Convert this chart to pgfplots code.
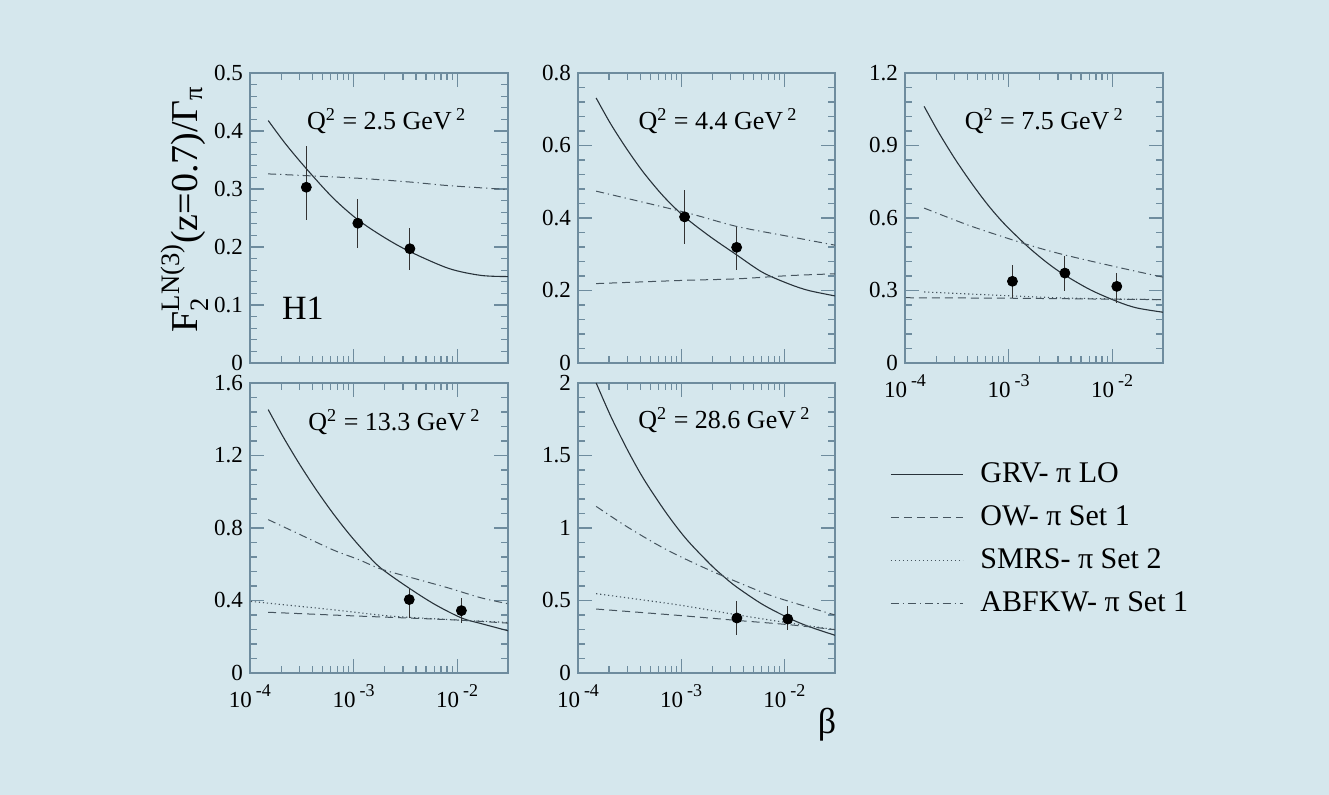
\documentclass[border=0pt]{standalone}
\usepackage{fontspec}
\setmainfont{Liberation Serif}
\usepackage{amsmath}
\usepackage{pgfplots}
\pgfplotsset{compat=1.18}
\definecolor{bg}{RGB}{213,231,237}
\definecolor{axc}{RGB}{110,140,158}
\definecolor{lnc}{RGB}{40,50,58}
\definecolor{dshc}{RGB}{70,85,95}
\newcommand{\dec}[1]{10\hspace{2pt}\raisebox{5.5pt}{\fontsize{9}{9}\selectfont #1}}
\pgfplotsset{every axis/.append style={
  scale only axis, height=145pt,
  xmin=1e-4, xmax=3.1e-2, ymin=0,
  axis line style={axc, line width=0.6pt},
  tick style={axc, line width=0.6pt},
  major tick length=7pt, minor tick length=3.5pt,
  tick align=inside, xtick pos=both, ytick pos=both,
  xticklabel pos=lower, yticklabel pos=left,
  xtick={1e-4,1e-3,1e-2},
  minor y tick num=4,
  ticklabel style={font=\fontsize{11.5}{13}\selectfont, text=black},
  xticklabel style={yshift=-2.5pt},
  yticklabel={\pgfmathprintnumber[assume math mode=true]{\tick}},
}}
\begin{document}
\begin{tikzpicture}
\fill[bg] (0,0) rectangle (664.5pt,397.5pt);

% Panel 1
\begin{semilogxaxis}[at={(125pt,216pt)}, anchor=south west, width=129pt, ymax=0.5, ytick={0,0.1,0.2,0.3,0.4,0.5}, xticklabels={}]
\addplot[lnc, line width=0.55pt, smooth] table {
x y
1.5e-4 0.418
2.2e-4 0.378
3.5e-4 0.335
6.3e-4 0.285
1.1e-3 0.247
2e-3 0.216
3.5e-3 0.192
8.3e-3 0.163
1.7e-2 0.151
3.1e-2 0.149
};
\addplot[dshc, line width=0.5pt, dash pattern=on 4pt off 2pt on 0.6pt off 2pt, smooth] table {
x y
1.5e-4 0.326
1e-3 0.319
3.5e-3 0.312
8e-3 0.306
3.1e-2 0.299
};
\addplot[black!80, only marks, mark=none, forget plot, error bars/.cd, y dir=both, y explicit, error mark=-, error mark options={mark size=1.6pt, line width=0.5pt}] table[x=x,y=y,y error plus=sp,y error minus=sm] {
x y sp sm
3.5e-4 0.303 0.021 0.023
1.1e-3 0.241 0.011 0.012
3.5e-3 0.197 0.012 0.014
};
\addplot[black, only marks, mark=*, mark size=2.5pt, forget plot, error bars/.cd, y dir=both, y explicit, error mark=none, error bar style={black!80, line width=0.5pt}] table[x=x,y=y,y error plus=ep,y error minus=em] {
x y ep em
3.5e-4 0.303 0.071 0.056
1.1e-3 0.241 0.041 0.042
3.5e-3 0.197 0.035 0.036
};
\node[font=\fontsize{13}{15}\selectfont] at (rel axis cs:0.53,0.834) {Q\textsuperscript{2} = 2.5 GeV\,\textsuperscript{2}};
\node[font=\fontsize{17}{20}\selectfont] at (rel axis cs:0.205,0.19) {H1};
\end{semilogxaxis}

% Panel 2
\begin{semilogxaxis}[at={(289pt,216pt)}, anchor=south west, width=128.5pt, ymax=0.8, ytick={0,0.2,0.4,0.6,0.8}, xticklabels={}]
\addplot[lnc, line width=0.55pt, smooth] table {
x y
1.5e-4 0.731
2.08e-4 0.659
3.01e-4 0.588
4.36e-4 0.524
6.78e-4 0.459
1.08e-3 0.403
1.9e-3 0.349
3.42e-3 0.299
6.15e-3 0.250
1.11e-2 0.218
1.72e-2 0.200
3.1e-2 0.185
};
\addplot[dshc, line width=0.5pt, dash pattern=on 4pt off 2pt on 0.6pt off 2pt, smooth] table {
x y
1.5e-4 0.474
1.08e-3 0.416
3.42e-3 0.377
1.11e-2 0.349
3.1e-2 0.325
};
\addplot[dshc, line width=0.5pt, dash pattern=on 4pt off 2.5pt, smooth] table {
x y
1.5e-4 0.219
1.08e-3 0.228
3.42e-3 0.232
1.11e-2 0.241
3.1e-2 0.246
};
\addplot[black!80, only marks, mark=none, forget plot, error bars/.cd, y dir=both, y explicit, error mark=-, error mark options={mark size=1.6pt, line width=0.5pt}] table[x=x,y=y,y error plus=sp,y error minus=sm] {
x y sp sm
1.08e-3 0.403 0.029 0.031
3.45e-3 0.319 0.021 0.025
};
\addplot[black, only marks, mark=*, mark size=2.5pt, forget plot, error bars/.cd, y dir=both, y explicit, error mark=none, error bar style={black!80, line width=0.5pt}] table[x=x,y=y,y error plus=ep,y error minus=em] {
x y ep em
1.08e-3 0.403 0.073 0.074
3.45e-3 0.319 0.056 0.062
};
\node[font=\fontsize{13}{15}\selectfont] at (rel axis cs:0.545,0.834) {Q\textsuperscript{2} = 4.4 GeV\,\textsuperscript{2}};
\end{semilogxaxis}

% Panel 3
\begin{semilogxaxis}[at={(452.5pt,216pt)}, anchor=south west, width=129pt, ymax=1.2, ytick={0,0.3,0.6,0.9,1.2}, xticklabels={\dec{-4},\dec{-3},\dec{-2}}]
\addplot[lnc, line width=0.55pt, smooth] table {
x y
1.53e-4 1.062
2.08e-4 0.959
3.01e-4 0.847
4.36e-4 0.746
6.29e-4 0.655
9.09e-4 0.576
1.52e-3 0.483
2.37e-3 0.414
3.42e-3 0.366
6.15e-3 0.303
1.11e-2 0.255
1.72e-2 0.228
3.1e-2 0.210
};
\addplot[dshc, line width=0.5pt, dash pattern=on 4pt off 2pt on 0.6pt off 2pt, smooth] table {
x y
1.53e-4 0.641
4.36e-4 0.566
1.52e-3 0.490
3.42e-3 0.448
1.11e-2 0.397
3.1e-2 0.355
};
\addplot[dshc, line width=0.5pt, dash pattern=on 4pt off 2.5pt, smooth] table {
x y
1.02e-4 0.270
1e-3 0.268
1e-2 0.264
3.1e-2 0.262
};
\addplot[dshc, line width=0.55pt, dash pattern=on 0.6pt off 1.4pt, smooth] table {
x y
1.53e-4 0.294
9e-4 0.279
3.42e-3 0.269
1.11e-2 0.265
3.1e-2 0.262
};
\addplot[black!80, only marks, mark=none, forget plot, error bars/.cd, y dir=both, y explicit, error mark=-, error mark options={mark size=1.6pt, line width=0.5pt}] table[x=x,y=y,y error plus=sp,y error minus=sm] {
x y sp sm
1.09e-3 0.338 0.045 0.045
3.5e-3 0.372 0.045 0.045
1.11e-2 0.317 0.035 0.035
};
\addplot[black, only marks, mark=*, mark size=2.5pt, forget plot, error bars/.cd, y dir=both, y explicit, error mark=none, error bar style={black!80, line width=0.5pt}] table[x=x,y=y,y error plus=ep,y error minus=em] {
x y ep em
1.09e-3 0.338 0.069 0.069
3.5e-3 0.372 0.069 0.075
1.11e-2 0.317 0.055 0.069
};
\node[font=\fontsize{13}{15}\selectfont] at (rel axis cs:0.54,0.834) {Q\textsuperscript{2} = 7.5 GeV\,\textsuperscript{2}};
\end{semilogxaxis}

% Panel 4
\begin{semilogxaxis}[at={(125pt,61pt)}, anchor=south west, width=129pt, ymax=1.6, ytick={0,0.4,0.8,1.2,1.6}, xticklabels={\dec{-4},\dec{-3},\dec{-2}}]
\addplot[lnc, line width=0.55pt, smooth] table {
x y
1.5e-4 1.453
2.08e-4 1.305
3.01e-4 1.152
4.36e-4 1.011
6.29e-4 0.883
9.09e-4 0.766
1.31e-3 0.662
1.83e-3 0.579
3.42e-3 0.469
6.15e-3 0.377
1.11e-2 0.303
1.72e-2 0.272
3.1e-2 0.233
};
\addplot[dshc, line width=0.5pt, dash pattern=on 4pt off 2pt on 0.6pt off 2pt, smooth] table {
x y
1.5e-4 0.846
2.41e-4 0.791
6.29e-4 0.680
1.13e-3 0.625
1.83e-3 0.574
4.25e-3 0.515
8.26e-3 0.469
1.72e-2 0.414
3.1e-2 0.382
};
\addplot[dshc, line width=0.55pt, dash pattern=on 0.6pt off 1.4pt, smooth] table {
x y
1.02e-4 0.395
2.08e-4 0.377
6.29e-4 0.349
1.9e-3 0.318
3.42e-3 0.307
1.11e-2 0.291
3.1e-2 0.279
};
\addplot[dshc, line width=0.5pt, dash pattern=on 4pt off 2.5pt, smooth] table {
x y
1.5e-4 0.335
9.09e-4 0.316
3.42e-3 0.303
1.11e-2 0.291
3.1e-2 0.275
};
\addplot[black!80, only marks, mark=none, forget plot, error bars/.cd, y dir=both, y explicit, error mark=-, error mark options={mark size=1.6pt, line width=0.5pt}] table[x=x,y=y,y error plus=sp,y error minus=sm] {
x y sp sm
3.45e-3 0.405 0.035 0.060
1.1e-2 0.344 0.030 0.030
};
\addplot[black, only marks, mark=*, mark size=2.5pt, forget plot, error bars/.cd, y dir=both, y explicit, error mark=none, error bar style={black!80, line width=0.5pt}] table[x=x,y=y,y error plus=ep,y error minus=em] {
x y ep em
3.45e-3 0.405 0.064 0.100
1.1e-2 0.344 0.068 0.068
};
\node[font=\fontsize{13}{15}\selectfont] at (rel axis cs:0.56,0.866) {Q\textsuperscript{2} = 13.3 GeV\,\textsuperscript{2}};
\end{semilogxaxis}

% Panel 5
\begin{semilogxaxis}[at={(289pt,61pt)}, anchor=south west, width=128.5pt, ymax=2, ytick={0,0.5,1,1.5,2}, xticklabels={\dec{-4},\dec{-3},\dec{-2}},
  legend style={at={(1.214,0.741)}, anchor=north west, draw=none, fill=none,
    font=\fontsize{15}{18}\selectfont, inner sep=0pt,
    nodes={inner sep=1pt, text height=11pt, text depth=3pt},
    row sep=5.5pt, /tikz/every odd column/.append style={column sep=7.5pt}},
  legend cell align=left,
  legend image code/.code={\draw[#1] (0pt,0pt) -- (36pt,0pt);}]
\addplot[lnc, line width=0.55pt, smooth] table {
x y
1.5e-4 2.0
2.08e-4 1.77
3.01e-4 1.54
4.36e-4 1.335
7.18e-4 1.103
1.13e-3 0.921
1.9e-3 0.752
2.51e-3 0.673
3.42e-3 0.595
6.15e-3 0.473
1.11e-2 0.378
1.72e-2 0.321
3.1e-2 0.260
};
\addlegendentry{GRV- π LO}
\addplot[dshc, line width=0.5pt, dash pattern=on 4pt off 2.5pt, smooth] table {
x y
1.5e-4 0.441
9.09e-4 0.398
3.42e-3 0.363
1.11e-2 0.333
3.1e-2 0.299
};
\addlegendentry{OW- π Set 1}
\addplot[dshc, line width=0.55pt, dash pattern=on 0.6pt off 1.4pt, smooth] table {
x y
1.5e-4 0.547
9.09e-4 0.471
3.42e-3 0.402
1.11e-2 0.345
3.1e-2 0.299
};
\addlegendentry{SMRS- π Set 2}
\addplot[dshc, line width=0.5pt, dash pattern=on 4pt off 2pt on 0.6pt off 2pt, smooth] table {
x y
1.5e-4 1.149
3.01e-4 1.007
7.18e-4 0.851
1.9e-3 0.708
6.15e-3 0.556
1.11e-2 0.494
3.1e-2 0.400
};
\addlegendentry{ABFKW- π Set 1}
\addplot[black!80, only marks, mark=none, forget plot, error bars/.cd, y dir=both, y explicit, error mark=-, error mark options={mark size=1.6pt, line width=0.5pt}] table[x=x,y=y,y error plus=sp,y error minus=sm] {
x y sp sm
3.47e-3 0.379 0.046 0.057
1.08e-2 0.372 0.047 0.043
};
\addplot[black, only marks, mark=*, mark size=2.5pt, forget plot, error bars/.cd, y dir=both, y explicit, error mark=none, error bar style={black!80, line width=0.5pt}] table[x=x,y=y,y error plus=ep,y error minus=em] {
x y ep em
3.47e-3 0.379 0.115 0.115
1.08e-2 0.372 0.092 0.078
};
\node[font=\fontsize{13}{15}\selectfont] at (rel axis cs:0.57,0.872) {Q\textsuperscript{2} = 28.6 GeV\,\textsuperscript{2}};
\end{semilogxaxis}

\node[rotate=90, font=\fontsize{19}{22}\selectfont] at (92.5pt,293pt)
  {F$_{\text{2}}^{\text{LN(3)}}$(z=0.7)/Γ$_{\text{π}}$};
\node[font=\fontsize{18}{20}\selectfont] at (413.5pt,35pt) {β};
\pgfresetboundingbox
\path[use as bounding box] (0,0) rectangle (664.5pt,397.5pt);
\end{tikzpicture}
\end{document}
